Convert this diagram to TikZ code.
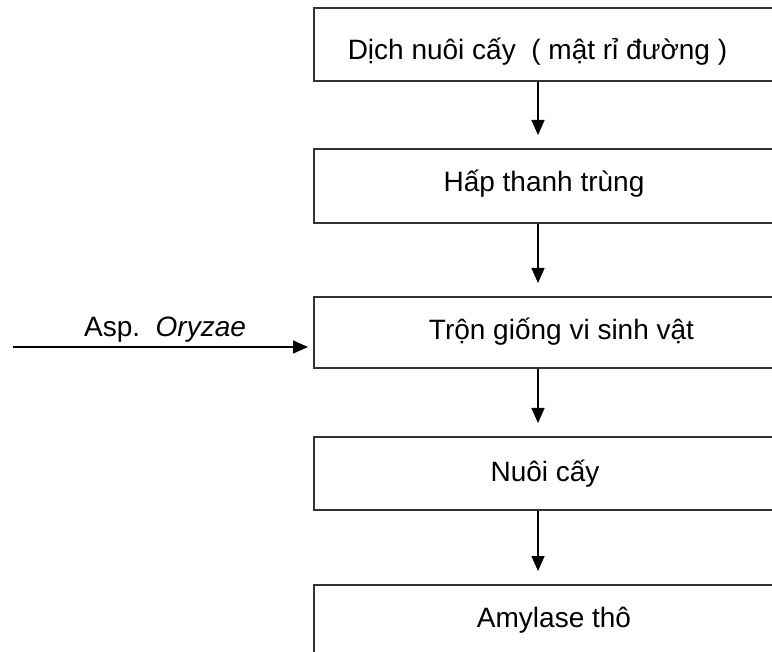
\documentclass[tikz,border=0pt]{standalone}
\usepackage{fontspec}
\setmainfont{Liberation Sans}
\usetikzlibrary{arrows.meta}
\begin{document}
\begin{tikzpicture}[x=1pt,y=-1pt,
  stagebox/.style={draw=black!80,line width=1.6pt,rectangle,anchor=north west,
    minimum width=500pt,inner sep=0pt},
  stagetext/.style={font=\fontsize{28}{32}\selectfont,anchor=base,inner sep=0pt},
  flow/.style={line width=1.3pt,-{Triangle[length=15pt,width=13pt]}}]
\useasboundingbox (0,0) rectangle (772,652);
\clip (0,0) rectangle (772,652);
% process stages (the boxes run past the right and bottom edges)
\node[stagebox,minimum height=73pt] (b1) at (313,7) {};
\node[stagebox,minimum height=74pt] (b2) at (313,148) {};
\node[stagebox,minimum height=71pt] (b3) at (313,296) {};
\node[stagebox,minimum height=73pt] (b4) at (313,436) {};
\node[stagebox,minimum height=100pt] (b5) at (313,584) {};
% stage labels
\node[stagetext] (t1) at (537.5,60) {Dịch nuôi cấy\ \ ( mật rỉ đường )};
\node[stagetext] (t2) at (544,192) {Hấp thanh trùng};
\node[stagetext] (t3) at (561.5,340) {Trộn giống vi sinh vật};
\node[stagetext] (t4) at (545,482) {Nuôi cấy};
\node[stagetext] (t5) at (554,627) {Amylase thô};
% downward flow between stages, all on one vertical axis
\coordinate (axis) at (538,0);
\draw[flow,shorten >=13pt] (b1.south -| axis) -- (b2.north -| axis);
\draw[flow,shorten >=13pt] (b2.south -| axis) -- (b3.north -| axis);
\draw[flow,shorten >=13pt] (b3.south -| axis) -- (b4.north -| axis);
\draw[flow,shorten >=13pt] (b4.south -| axis) -- (b5.north -| axis);
% inoculum fed into the mixing step
\coordinate (src) at (13,347);
\draw[flow,shorten >=5pt] (src) -- (src -| b3.west);
\node[stagetext] (asp) at (165,337) {Asp.\ \ \textit{Oryzae}};
\end{tikzpicture}
\end{document}
